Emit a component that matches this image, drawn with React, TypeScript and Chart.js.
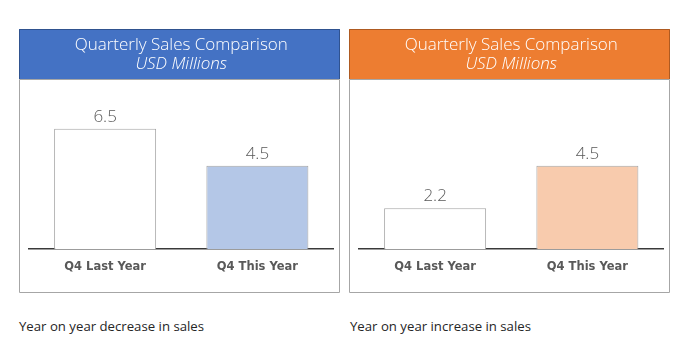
import React, { useEffect, useRef } from "react";
import { Chart, registerables } from "chart.js";

Chart.register(...registerables);

const categories = ["Q4 Last Year", "Q4 This Year"];
const decreaseValues = [6.5, 4.5];
const increaseValues = [2.2, 4.5];
const titleText = "Quarterly Sales Comparison";
const subtitleText = "USD Millions";
const leftFooter = "Year on year decrease in sales";
const rightFooter = "Year on year increase in sales";

const TITLE_FONT = "'Open Sans', Lato, sans-serif";
const LABEL_FONT = "'DejaVu Sans', sans-serif";

type PanelProps = {
  values: number[];
  headerColor: string;
  headerEdge: string;
  fills: string[];
  left: number;
};

function Panel({ values, headerColor, headerEdge, fills, left }: PanelProps) {
  const ref = useRef<HTMLCanvasElement | null>(null);
  useEffect(() => {
    if (!ref.current) return;
    const boxPlugin = {
      id: "box",
      beforeDraw(chart: any) {
        const { ctx, width, height } = chart;
        ctx.save();
        ctx.fillStyle = "#ffffff";
        ctx.fillRect(0, 0, width, height);
        ctx.fillStyle = headerColor;
        ctx.fillRect(0, 0, width, 50);
        ctx.strokeStyle = headerEdge;
        ctx.lineWidth = 1;
        ctx.beginPath();
        ctx.moveTo(0.5, 50);
        ctx.lineTo(0.5, 0.5);
        ctx.lineTo(width - 0.5, 0.5);
        ctx.lineTo(width - 0.5, 50);
        ctx.stroke();
        ctx.strokeStyle = "#a6a6a6";
        ctx.beginPath();
        ctx.moveTo(0.5, 50.5);
        ctx.lineTo(0.5, height - 0.5);
        ctx.lineTo(width - 0.5, height - 0.5);
        ctx.lineTo(width - 0.5, 50.5);
        ctx.lineTo(0.5, 50.5);
        ctx.stroke();
        ctx.restore();
      },
    };
    const valuePlugin = {
      id: "values",
      afterDatasetsDraw(chart: any) {
        const { ctx } = chart;
        const meta = chart.getDatasetMeta(0);
        ctx.save();
        ctx.fillStyle = "#595959";
        ctx.font = `300 17px ${TITLE_FONT}`;
        ctx.textAlign = "center";
        ctx.textBaseline = "middle";
        meta.data.forEach((bar: any, i: number) => {
          ctx.fillText(String(values[i]), bar.x, bar.y - 12);
        });
        ctx.restore();
      },
    };
    const chart = new Chart(ref.current, {
      type: "bar",
      data: {
        labels: categories,
        datasets: [
          {
            data: values,
            backgroundColor: fills,
            borderColor: "#a5a5a5",
            borderWidth: 1,
            barPercentage: 0.67,
            categoryPercentage: 1,
          },
        ],
      },
      options: {
        animation: false,
        responsive: false,
        layout: { padding: { left: 10, right: 6.5, top: 0, bottom: 0 } },
        plugins: {
          legend: { display: false },
          tooltip: { enabled: false },
          title: {
            display: true,
            text: titleText,
            color: "#ffffff",
            font: { family: TITLE_FONT, size: 17, weight: "300" as any, lineHeight: 1.1 },
            padding: { top: 7, bottom: 0 },
          },
          subtitle: {
            display: true,
            text: subtitleText,
            color: "#ffffff",
            font: { family: TITLE_FONT, size: 17, weight: "300" as any, style: "italic", lineHeight: 1.1 },
            padding: { top: 0, bottom: 27.5 },
          },
        },
        scales: {
          x: {
            grid: { display: false, drawTicks: false },
            border: { display: true, color: "#3a3a3a", width: 1.5 },
            ticks: {
              color: "#595959",
              font: { family: LABEL_FONT, size: 11.5, weight: "bold" },
              padding: 11,
            },
            afterFit(scale: any) {
              scale.height = 44;
            },
          },
          y: {
            display: false,
            min: 0,
            max: 8,
          },
        },
      },
      plugins: [boxPlugin, valuePlugin],
    });
    return () => chart.destroy();
  }, []);
  return (
    <div style={{ position: "absolute", left, top: 29, width: 321, height: 264 }}>
      <canvas ref={ref} width={321} height={264} style={{ display: "block" }} />
    </div>
  );
}

export default function App() {
  const footerStyle: React.CSSProperties = {
    position: "absolute",
    top: 317,
    fontFamily: "'Open Sans', sans-serif",
    fontSize: 13.2,
    color: "#262626",
    whiteSpace: "nowrap",
    lineHeight: "18px",
  };
  return (
    <div style={{ position: "absolute", left: 0, top: 0, width: 690, height: 354, background: "#ffffff" }}>
      <Panel
        values={decreaseValues}
        headerColor="#4472c4"
        headerEdge="#2f528f"
        fills={["#ffffff", "#b4c7e7"]}
        left={19}
      />
      <Panel
        values={increaseValues}
        headerColor="#ed7d31"
        headerEdge="#ae5a21"
        fills={["#ffffff", "#f8cbad"]}
        left={349}
      />
      <div style={{ ...footerStyle, left: 19 }}>{leftFooter}</div>
      <div style={{ ...footerStyle, left: 350 }}>{rightFooter}</div>
    </div>
  );
}
